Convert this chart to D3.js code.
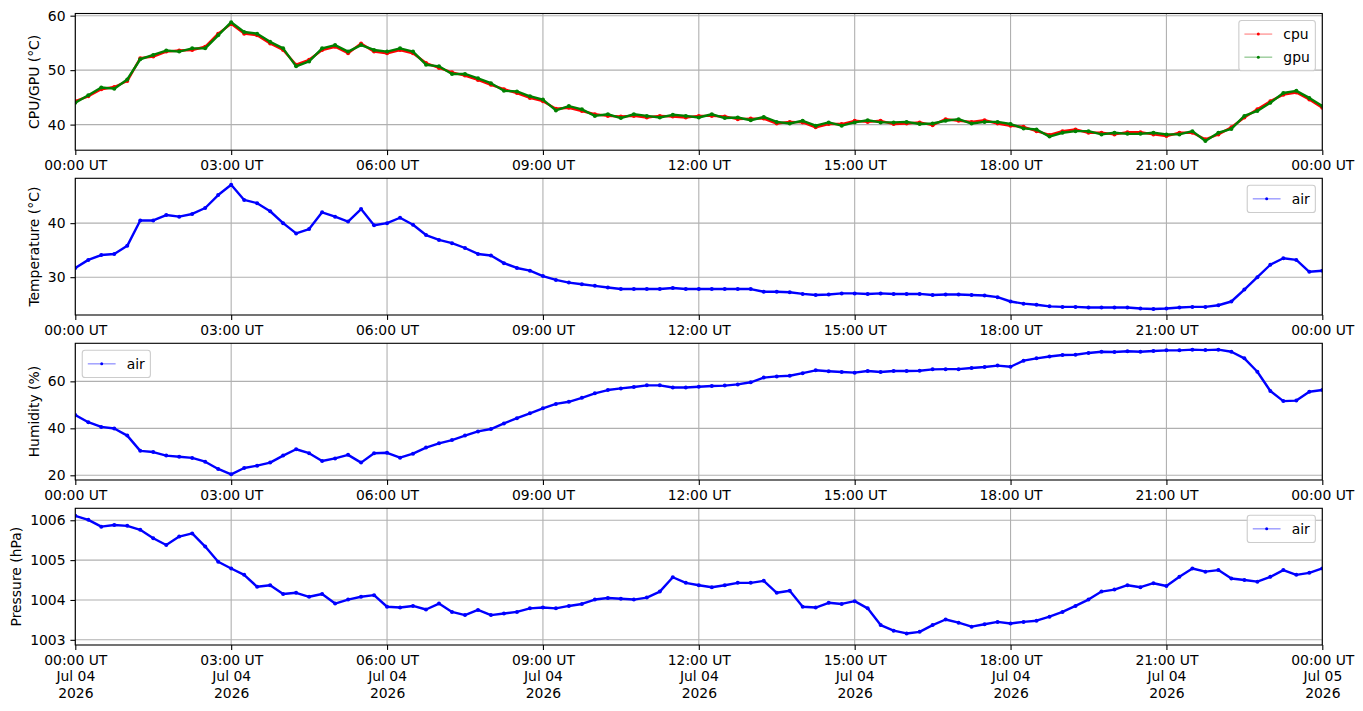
<!DOCTYPE html>
<html>
<head>
<meta charset="utf-8">
<script src="https://cdnjs.cloudflare.com/ajax/libs/d3/7.8.5/d3.min.js"></script>
<style>
  body { margin: 0; background: #fff; }
  svg text { font-family: "DejaVu Sans", sans-serif; font-size: 13.9px; fill: #000; }
</style>
</head>
<body>
<svg id="chart"></svg>
<script>
// one reading every 15 minutes, 00:00 UT Jul 04 -> 00:00 UT Jul 05 2026
var t0 = Date.UTC(2026, 6, 4);
var sampleTimes = d3.range(97).map(function (i) { return new Date(t0 + i * 15 * 60000); });

var cpuTemp = [
  44.3, 45.2, 46.5, 46.9,  48.0, 52.2, 52.5, 53.4,  53.6, 53.7, 54.3, 56.7,
  58.5, 56.7, 56.4, 54.9,  53.7, 51.0, 51.9, 53.7,  54.3, 53.1, 54.9, 53.4,
  53.1, 53.7, 53.1, 51.3,  50.4, 49.6, 49.0, 48.2,  47.3, 46.5, 45.8, 44.9,
  44.3, 42.9, 43.1, 42.5,  41.9, 41.6, 41.5, 41.6,  41.3, 41.6, 41.5, 41.3,
  41.6, 41.6, 41.5, 41.0,  41.1, 41.1, 40.2, 40.5,  40.4, 39.5, 40.1, 40.1,
  40.7, 40.5, 40.7, 40.1,  40.2, 40.4, 39.9, 41.0,  40.7, 40.5, 40.8, 40.2,
  39.8, 39.6, 38.8, 38.1,  38.8, 39.1, 38.5, 38.5,  38.2, 38.6, 38.6, 38.2,
  37.9, 38.5, 38.5, 37.3,  38.2, 39.5, 41.3, 42.8,  44.3, 45.5, 45.9, 44.6,
  43.1
];
var gpuTemp = [
  44.0, 45.4, 46.8, 46.6,  48.3, 52.0, 52.8, 53.6,  53.4, 54.0, 54.0, 56.4,
  58.8, 57.0, 56.7, 55.2,  54.0, 50.7, 51.6, 54.0,  54.6, 53.4, 54.6, 53.7,
  53.4, 54.0, 53.4, 51.0,  50.7, 49.3, 49.3, 48.5,  47.6, 46.2, 46.1, 45.2,
  44.6, 42.6, 43.4, 42.8,  41.6, 41.9, 41.2, 41.9,  41.6, 41.3, 41.8, 41.6,
  41.3, 41.9, 41.2, 41.3,  40.8, 41.4, 40.5, 40.2,  40.7, 39.8, 40.4, 39.8,
  40.4, 40.8, 40.4, 40.4,  40.5, 40.1, 40.2, 40.7,  41.0, 40.2, 40.5, 40.5,
  40.1, 39.3, 39.1, 37.8,  38.5, 38.8, 38.8, 38.2,  38.5, 38.3, 38.3, 38.5,
  38.2, 38.2, 38.8, 37.0,  38.5, 39.2, 41.6, 42.5,  44.0, 45.8, 46.2, 44.9,
  43.4
];
var airTemp = [
  31.7, 33.2, 34.1, 34.3,  35.8, 40.5, 40.5, 41.5,  41.2, 41.7, 42.8, 45.2,
  47.1, 44.3, 43.7, 42.2,  40.0, 38.1, 38.9, 42.0,  41.2, 40.3, 42.6, 39.6,
  40.0, 41.0, 39.7, 37.8,  36.9, 36.3, 35.4, 34.3,  34.0, 32.6, 31.7, 31.2,
  30.2, 29.5, 29.0, 28.7,  28.4, 28.1, 27.8, 27.8,  27.8, 27.8, 28.0, 27.8,
  27.8, 27.8, 27.8, 27.8,  27.8, 27.3, 27.3, 27.2,  26.9, 26.7, 26.8, 27.0,
  27.0, 26.9, 27.0, 26.9,  26.9, 26.9, 26.7, 26.8,  26.8, 26.7, 26.6, 26.3,
  25.5, 25.1, 24.9, 24.6,  24.5, 24.5, 24.4, 24.4,  24.4, 24.4, 24.2, 24.1,
  24.2, 24.4, 24.5, 24.5,  24.8, 25.5, 27.7, 30.0,  32.3, 33.5, 33.2, 31.0,
  31.2
];
var airHumidity = [
  45.7, 42.6, 40.6, 39.9,  36.9, 30.4, 29.9, 28.4,  27.9, 27.4, 25.8, 22.7,
  20.4, 23.1, 24.1, 25.4,  28.4, 31.1, 29.4, 26.1,  27.2, 28.7, 25.4, 29.4,
  29.6, 27.5, 29.2, 31.8,  33.6, 35.0, 36.9, 38.7,  39.7, 42.1, 44.3, 46.4,
  48.5, 50.4, 51.3, 53.0,  54.9, 56.3, 57.0, 57.6,  58.3, 58.3, 57.4, 57.4,
  57.7, 58.0, 58.2, 58.7,  59.6, 61.6, 62.1, 62.4,  63.5, 64.7, 64.3, 64.0,
  63.7, 64.4, 64.0, 64.4,  64.4, 64.5, 65.1, 65.2,  65.2, 65.7, 66.1, 66.7,
  66.2, 68.8, 69.8, 70.6,  71.2, 71.3, 72.1, 72.6,  72.5, 72.8, 72.6, 72.9,
  73.2, 73.2, 73.5, 73.3,  73.5, 72.6, 69.8, 64.1,  55.9, 51.6, 51.8, 55.6,
  56.3
];
var airPressure = [
  1006.11, 1006.01, 1005.84, 1005.88,  1005.86, 1005.76, 1005.55, 1005.38,
  1005.59, 1005.67, 1005.34, 1004.96,  1004.79, 1004.63, 1004.33, 1004.37,
  1004.15, 1004.18, 1004.08, 1004.15,  1003.91, 1004.01, 1004.08, 1004.12,
  1003.83, 1003.81, 1003.85, 1003.76,  1003.91, 1003.70, 1003.62, 1003.75,
  1003.62, 1003.66, 1003.70, 1003.79,  1003.81, 1003.79, 1003.85, 1003.90,
  1004.01, 1004.05, 1004.03, 1004.01,  1004.06, 1004.21, 1004.57, 1004.43,
  1004.37, 1004.32, 1004.37, 1004.43,  1004.43, 1004.48, 1004.18, 1004.23,
  1003.83, 1003.81, 1003.93, 1003.90,  1003.97, 1003.79, 1003.37, 1003.23,
  1003.16, 1003.20, 1003.37, 1003.51,  1003.43, 1003.33, 1003.39, 1003.45,
  1003.41, 1003.45, 1003.48, 1003.58,  1003.70, 1003.85, 1004.01, 1004.21,
  1004.26, 1004.37, 1004.32, 1004.42,  1004.35, 1004.58, 1004.79, 1004.71,
  1004.75, 1004.54, 1004.50, 1004.46,  1004.58, 1004.75, 1004.63, 1004.68,
  1004.79
];

var tempTicks = [40, 50, 60];
var airTempTicks = [30, 40];
var humidityTicks = [20, 40, 60];
var pressureTicks = [1003, 1004, 1005, 1006];

var svgWidth = 1363, svgHeight = 711;
var left = 75.3, right = 1322.3, panelHeight = 136.7;
var fs = 13.9, tickLen = 4.9, tickPad = 4.9;

var svg = d3.select('#chart')
    .attr('width', svgWidth)
    .attr('height', svgHeight);

var x = d3.scaleUtc()
    .domain([new Date(t0), new Date(t0 + 24 * 3600000)])
    .range([left, right]);
var xTicks = x.ticks(d3.utcHour.every(3));

var panels = [
  { top: 13.5, domain: [35.3, 60.4], ticks: tempTicks, label: 'CPU/GPU (°C)', legend: 'right',
    series: [{ name: 'cpu', values: cpuTemp, color: '#ff0000' }, { name: 'gpu', values: gpuTemp, color: '#008000' }] },
  { top: 178.3, domain: [23.0, 48.3], ticks: airTempTicks, label: 'Temperature (°C)', legend: 'right',
    series: [{ name: 'air', values: airTemp, color: '#0000ff' }] },
  { top: 343.3, domain: [18.0, 76.2], ticks: humidityTicks, label: 'Humidity (%)', legend: 'left',
    series: [{ name: 'air', values: airHumidity, color: '#0000ff' }] },
  { top: 508.3, domain: [1002.87, 1006.30], ticks: pressureTicks, label: 'Pressure (hPa)', legend: 'right',
    series: [{ name: 'air', values: airPressure, color: '#0000ff' }], dates: true }
];

panels.forEach(function (p, pi) {
  var bottom = p.top + panelHeight;
  var y = d3.scaleLinear().domain(p.domain).range([bottom, p.top]);
  var g = svg.append('g');

  // grid
  g.selectAll('.vgrid').data(xTicks).enter().append('line')
      .attr('x1', function (d) { return x(d); })
      .attr('x2', function (d) { return x(d); })
      .attr('y1', p.top).attr('y2', bottom)
      .attr('stroke', '#b0b0b0').attr('stroke-width', 1.1);
  g.selectAll('.hgrid').data(p.ticks).enter().append('line')
      .attr('x1', left).attr('x2', right)
      .attr('y1', function (d) { return y(d); })
      .attr('y2', function (d) { return y(d); })
      .attr('stroke', '#b0b0b0').attr('stroke-width', 1.1);

  // data (thick strokes stand in for the dense one-minute sampling)
  svg.append('clipPath').attr('id', 'clip' + pi).append('rect')
      .attr('x', left).attr('y', p.top).attr('width', right - left).attr('height', panelHeight);
  var dataG = g.append('g').attr('clip-path', 'url(#clip' + pi + ')');
  var line = d3.line()
      .x(function (d, i) { return x(sampleTimes[i]); })
      .y(function (d) { return y(d); });
  p.series.forEach(function (s) {
    dataG.append('path')
        .attr('d', line(s.values))
        .attr('fill', 'none')
        .attr('stroke', s.color)
        .attr('stroke-width', 2.4)
        .attr('stroke-linejoin', 'round');
    dataG.selectAll(null).data(s.values).enter().append('circle')
        .attr('cx', function (d, i) { return x(sampleTimes[i]); })
        .attr('cy', function (d) { return y(d); })
        .attr('r', 2)
        .attr('fill', s.color);
  });

  // frame
  g.append('rect')
      .attr('x', left).attr('y', p.top)
      .attr('width', right - left).attr('height', panelHeight)
      .attr('fill', 'none').attr('stroke', '#000').attr('stroke-width', 1.1);

  // axes
  var xAxis = g.append('g')
      .attr('transform', 'translate(0,' + bottom + ')')
      .call(d3.axisBottom(x).tickValues(xTicks).tickSize(tickLen).tickPadding(tickPad)
          .tickFormat(d3.utcFormat('%H:%M UT')));
  xAxis.select('.domain').remove();
  xAxis.selectAll('.tick line').attr('stroke-width', 1.1);
  if (p.dates) {
    xAxis.selectAll('.tick text').each(function (d) {
      var t = d3.select(this).text('');
      [d3.utcFormat('%H:%M UT')(d), d3.utcFormat('%b %d')(d), d3.utcFormat('%Y')(d)]
        .forEach(function (s, k) {
          t.append('tspan').attr('x', 0).attr('dy', k === 0 ? '0.71em' : '1.2em').text(s);
        });
    });
  }

  var yAxis = g.append('g')
      .attr('transform', 'translate(' + left + ',0)')
      .call(d3.axisLeft(y).tickValues(p.ticks).tickSize(tickLen).tickPadding(tickPad)
          .tickFormat(d3.format('d')));
  yAxis.select('.domain').remove();
  yAxis.selectAll('.tick line').attr('stroke-width', 1.1);

  var maxW = 0;
  yAxis.selectAll('.tick text').each(function () {
    maxW = Math.max(maxW, this.getComputedTextLength());
  });
  var labelX = left - tickLen - tickPad - maxW - 5.6 - 0.24 * fs;
  g.append('text')
      .attr('transform', 'translate(' + labelX + ',' + (p.top + panelHeight / 2) + ') rotate(-90)')
      .attr('text-anchor', 'middle')
      .text(p.label);

  // legend
  var pad = 0.4 * fs, handle = 2 * fs, textPad = 0.8 * fs, rowH = 1.16 * fs, gap = 0.5 * fs;
  var leg = g.append('g');
  var texts = [];
  p.series.forEach(function (s) {
    texts.push(leg.append('text').attr('dy', '0.35em').text(s.name));
  });
  var textW = d3.max(texts, function (t) { return t.node().getComputedTextLength(); });
  var legW = pad * 2 + handle + textPad + textW;
  var legH = pad * 2 + rowH * p.series.length + gap * (p.series.length - 1);
  var lx = p.legend === 'right' ? right - 0.5 * fs - legW : left + 0.5 * fs;
  var ly = p.top + 0.5 * fs;
  leg.insert('rect', 'text')
      .attr('x', lx).attr('y', ly).attr('width', legW).attr('height', legH)
      .attr('rx', 2.8)
      .attr('fill', '#fff').attr('fill-opacity', 0.8)
      .attr('stroke', '#cccccc').attr('stroke-width', 1.1);
  p.series.forEach(function (s, k) {
    var cy = ly + pad + rowH / 2 + k * (rowH + gap);
    leg.insert('line', 'text')
        .attr('x1', lx + pad).attr('x2', lx + pad + handle)
        .attr('y1', cy).attr('y2', cy)
        .attr('stroke', s.color).attr('stroke-width', 0.7).attr('stroke-opacity', 0.8);
    leg.insert('circle', 'text')
        .attr('cx', lx + pad + handle / 2).attr('cy', cy).attr('r', 1.5)
        .attr('fill', s.color);
    texts[k].attr('x', lx + pad + handle + textPad).attr('y', cy);
  });
});
</script>
</body>
</html>
